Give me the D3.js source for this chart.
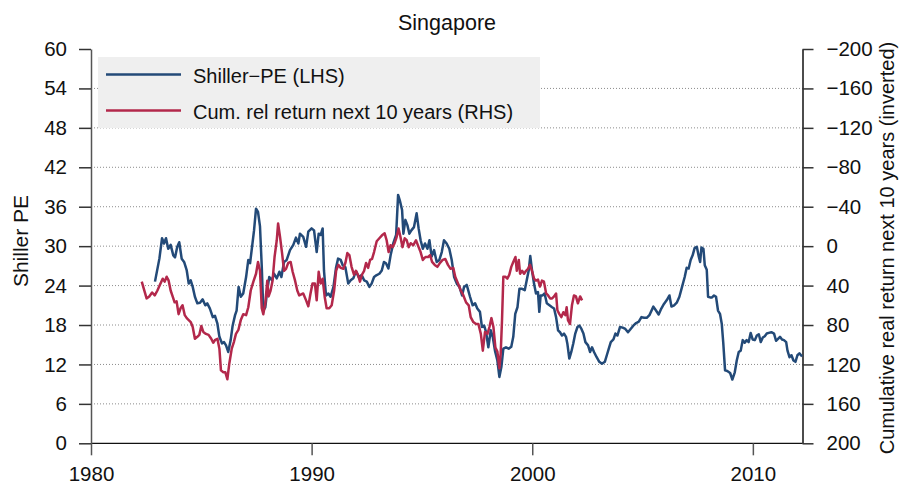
<!DOCTYPE html>
<html>
<head>
<meta charset="utf-8">
<script src="https://cdn.jsdelivr.net/npm/d3@7"></script>
<style>
  body { margin: 0; background: #fff; }
  svg { font-family: "Liberation Sans", Arial, Helvetica, sans-serif; }
</style>
</head>
<body>
<svg width="901" height="487"></svg>
<script>
// Shiller PE (left axis), decimal years
let peYears = [
  1982.90, 1983.10, 1983.22, 1983.31, 1983.40, 1983.50, 1983.61, 1983.73, 1983.81, 1983.91,
  1984.00, 1984.11, 1984.22, 1984.34, 1984.43, 1984.52, 1984.61, 1984.71, 1984.82, 1984.94,
  1985.06, 1985.18, 1985.27, 1985.39, 1985.52, 1985.62, 1985.73, 1985.82, 1985.94, 1986.03,
  1986.12, 1986.22, 1986.33, 1986.42, 1986.53, 1986.60, 1986.69, 1986.79, 1986.90, 1987.03,
  1987.13, 1987.21, 1987.30, 1987.39, 1987.48, 1987.57, 1987.66, 1987.74, 1987.81, 1987.90,
  1987.99, 1988.08, 1988.20, 1988.30, 1988.42, 1988.54, 1988.63, 1988.75, 1988.87, 1989.02,
  1989.17, 1989.29, 1989.40, 1989.47, 1989.62, 1989.75, 1989.85, 1990.00, 1990.11, 1990.23,
  1990.32, 1990.41, 1990.50, 1990.56, 1990.65, 1990.76, 1990.86, 1990.99, 1991.11, 1991.20,
  1991.32, 1991.41, 1991.53, 1991.66, 1991.77, 1991.89, 1992.01, 1992.13, 1992.27, 1992.38,
  1992.50, 1992.62, 1992.72, 1992.83, 1992.95, 1993.07, 1993.18, 1993.28, 1993.37, 1993.48,
  1993.58, 1993.70, 1993.83, 1993.92, 1994.01, 1994.10, 1994.16, 1994.25, 1994.34, 1994.43,
  1994.52, 1994.64, 1994.76, 1994.85, 1994.94, 1995.04, 1995.14, 1995.25, 1995.34, 1995.44,
  1995.55, 1995.67, 1995.79, 1995.90, 1996.00, 1996.12, 1996.24, 1996.35, 1996.46, 1996.58,
  1996.70, 1996.82, 1996.91, 1997.03, 1997.18, 1997.30, 1997.41, 1997.51, 1997.63, 1997.72,
  1997.82, 1997.91, 1998.01, 1998.12, 1998.21, 1998.31, 1998.42, 1998.51, 1998.60, 1998.69,
  1998.81, 1998.93, 1999.05, 1999.14, 1999.23, 1999.33, 1999.42, 1999.54, 1999.66, 1999.75,
  1999.84, 1999.91, 1999.99, 2000.08, 2000.17, 2000.26, 2000.32, 2000.38, 2000.47, 2000.56,
  2000.66, 2000.78, 2000.90, 2000.99, 2001.08, 2001.17, 2001.26, 2001.35, 2001.44, 2001.53,
  2001.59, 2001.68, 2001.77, 2001.86, 2001.95, 2002.05, 2002.14, 2002.23, 2002.32, 2002.41,
  2002.53, 2002.62, 2002.71, 2002.80, 2002.92, 2003.04, 2003.16, 2003.29, 2003.38, 2003.47,
  2003.56, 2003.68, 2003.77, 2003.86, 2003.98, 2004.10, 2004.22, 2004.34, 2004.46, 2004.58,
  2004.71, 2004.83, 2004.95, 2005.07, 2005.19, 2005.31, 2005.49, 2005.61, 2005.73, 2005.85,
  2005.97, 2006.10, 2006.22, 2006.31, 2006.43, 2006.55, 2006.67, 2006.79, 2006.91, 2007.00,
  2007.09, 2007.18, 2007.27, 2007.36, 2007.46, 2007.55, 2007.61, 2007.67, 2007.76, 2007.82,
  2007.91, 2007.97, 2008.06, 2008.15, 2008.24, 2008.33, 2008.42, 2008.51, 2008.59, 2008.66,
  2008.74, 2008.84, 2008.97, 2009.07, 2009.18, 2009.27, 2009.36, 2009.45, 2009.54, 2009.63,
  2009.72, 2009.81, 2009.90, 2009.99, 2010.09, 2010.18, 2010.27, 2010.36, 2010.45, 2010.54,
  2010.63, 2010.72, 2010.84, 2010.96, 2011.05, 2011.14, 2011.23, 2011.32, 2011.41, 2011.51,
  2011.57, 2011.66, 2011.75, 2011.84, 2011.93, 2012.02, 2012.11, 2012.23
];
let peValues = [
  24.6, 28.1, 31.2, 30.4, 31.2, 29.6, 30.2, 28.6, 28.3, 29.9,
  30.6, 28.1, 27.6, 26.3, 24.3, 24.8, 23.8, 22.3, 21.3, 21.4,
  21.9, 21.0, 21.3, 20.5, 19.2, 19.4, 18.2, 16.2, 15.2, 15.4,
  14.9, 13.9, 15.7, 17.9, 19.5, 20.2, 23.8, 22.3, 22.8, 25.3,
  27.9, 27.4, 29.9, 32.4, 35.7, 35.2, 33.0, 26.9, 20.2, 20.7,
  23.3, 25.3, 24.8, 25.8, 25.1, 26.1, 25.3, 27.6, 27.9, 29.4,
  30.2, 31.3, 30.4, 31.9, 31.4, 29.9, 32.2, 32.7, 32.4, 29.1,
  31.9, 31.7, 32.7, 26.3, 22.5, 22.8, 22.3, 23.8, 26.8, 28.1,
  27.9, 27.1, 26.8, 24.3, 24.8, 25.1, 26.2, 25.3, 25.6, 24.8,
  24.6, 23.8, 24.3, 25.3, 25.6, 25.8, 26.3, 27.6, 27.4, 26.6,
  28.6, 30.4, 31.7, 37.8, 36.8, 35.5, 31.9, 34.0, 33.2, 31.9,
  32.4, 32.9, 35.0, 32.7, 30.9, 29.6, 30.4, 29.6, 30.9, 28.4,
  29.4, 27.6, 27.9, 29.1, 30.9, 30.4, 29.6, 27.9, 25.3, 24.3,
  23.8, 22.5, 23.8, 24.1, 22.3, 21.0, 21.3, 20.5, 20.0, 17.7,
  17.9, 16.9, 14.6, 17.2, 16.2, 14.1, 12.6, 10.1, 11.6, 14.4,
  14.6, 14.4, 14.7, 16.2, 19.7, 20.7, 23.5, 23.5, 23.3, 24.8,
  26.3, 28.5, 26.3, 24.3, 22.8, 23.0, 20.0, 22.5, 22.5, 22.8,
  21.3, 21.0, 20.7, 20.5, 19.2, 17.2, 16.9, 16.4, 16.7, 16.2,
  15.2, 12.9, 13.9, 15.2, 16.7, 17.7, 17.9, 17.4, 16.7, 15.4,
  14.9, 13.9, 14.6, 13.9, 13.1, 12.4, 12.1, 12.4, 13.4, 14.4,
  15.4, 15.8, 16.7, 16.4, 17.7, 17.6, 17.4, 16.9, 17.4, 17.9,
  18.3, 18.5, 19.2, 19.1, 19.1, 19.5, 20.8, 20.2, 19.6, 20.5,
  21.2, 21.8, 22.5, 20.8, 21.0, 21.4, 22.3, 23.8, 25.3, 26.7,
  26.6, 27.9, 28.6, 29.7, 29.9, 28.4, 27.6, 29.8, 29.6, 27.1,
  26.4, 22.3, 22.2, 22.2, 22.5, 22.3, 20.2, 19.7, 18.2, 15.2,
  11.1, 11.0, 10.7, 9.7, 10.8, 12.6, 13.9, 14.1, 15.7, 15.3,
  15.7, 15.4, 16.8, 15.8, 15.7, 16.4, 16.6, 15.4, 16.1, 16.3,
  16.7, 16.8, 16.9, 16.7, 15.6, 15.9, 16.2, 15.8, 15.7, 15.4,
  14.1, 13.1, 13.4, 12.6, 12.4, 13.4, 13.7, 13.2
];

// Cumulative real return next 10 years (right axis, inverted)
let retYears = [
  1982.30, 1982.52, 1982.64, 1982.77, 1982.89, 1983.01, 1983.13, 1983.25, 1983.34, 1983.43,
  1983.52, 1983.61, 1983.70, 1983.79, 1983.88, 1983.97, 1984.06, 1984.15, 1984.25, 1984.34,
  1984.43, 1984.52, 1984.61, 1984.71, 1984.82, 1984.91, 1985.00, 1985.09, 1985.21, 1985.33,
  1985.45, 1985.54, 1985.63, 1985.73, 1985.82, 1985.89, 1986.00, 1986.09, 1986.18, 1986.27,
  1986.38, 1986.48, 1986.57, 1986.68, 1986.79, 1986.90, 1987.03, 1987.13, 1987.24, 1987.36,
  1987.48, 1987.57, 1987.66, 1987.74, 1987.81, 1987.90, 1987.99, 1988.05, 1988.14, 1988.23,
  1988.32, 1988.42, 1988.48, 1988.57, 1988.66, 1988.75, 1988.84, 1988.94, 1989.05, 1989.14,
  1989.25, 1989.35, 1989.44, 1989.62, 1989.75, 1989.85, 1989.95, 1990.04, 1990.15, 1990.23,
  1990.32, 1990.41, 1990.50, 1990.59, 1990.68, 1990.80, 1990.91, 1991.02, 1991.11, 1991.21,
  1991.32, 1991.44, 1991.53, 1991.62, 1991.71, 1991.81, 1991.92, 1992.01, 1992.10, 1992.19,
  1992.28, 1992.38, 1992.47, 1992.56, 1992.65, 1992.74, 1992.83, 1992.95, 1993.07, 1993.19,
  1993.31, 1993.40, 1993.49, 1993.58, 1993.67, 1993.76, 1993.85, 1993.94, 1994.03, 1994.12,
  1994.22, 1994.31, 1994.40, 1994.49, 1994.61, 1994.73, 1994.85, 1994.94, 1995.04, 1995.16,
  1995.28, 1995.37, 1995.46, 1995.58, 1995.70, 1995.82, 1995.94, 1996.06, 1996.18, 1996.30,
  1996.42, 1996.51, 1996.64, 1996.76, 1996.88, 1997.00, 1997.12, 1997.21, 1997.33, 1997.45,
  1997.56, 1997.67, 1997.76, 1997.86, 1997.97, 1998.06, 1998.15, 1998.24, 1998.33, 1998.42,
  1998.51, 1998.57, 1998.63, 1998.69, 1998.78, 1998.87, 1998.96, 1999.05, 1999.14, 1999.24,
  1999.30, 1999.39, 1999.45, 1999.54, 1999.63, 1999.72, 1999.81, 1999.90, 1999.99, 2000.08,
  2000.17, 2000.26, 2000.35, 2000.44, 2000.53, 2000.63, 2000.72, 2000.81, 2000.90, 2000.99,
  2001.08, 2001.14, 2001.23, 2001.32, 2001.41, 2001.50, 2001.56, 2001.62, 2001.71, 2001.80,
  2001.89, 2001.98, 2002.07, 2002.17, 2002.26
];
let retValues = [
  36, 53, 51, 47, 50, 45, 39, 33, 36, 31,
  35, 45, 51, 57, 56, 69, 63, 60, 70, 73,
  75, 77, 82, 94, 92, 90, 81, 87, 89, 90,
  94, 98, 95, 94, 104, 126, 128, 128, 135, 119,
  104, 97, 89, 85, 75, 69, 70, 62, 45, 36,
  28, 16, 25, 63, 69, 58, 35, 51, 45, 35,
  11, -6, -23, -9, 7, 25, 23, 17, 16, 26,
  35, 45, 50, 48, 55, 61, 48, 38, 38, 55,
  26, 38, 33, 51, 63, 63, 60, 45, 25, 19,
  22, 23, 17, 7, 9, 21, 29, 25, 29, 36,
  29, 25, 17, 22, 14, 13, 6, -5, -8, -11,
  -13, -6, 6, -1, 1, -3, -9, -18, -9, 1,
  -8, -6, 1, -3, -1, -6, 1, 6, 14, 11,
  11, 9, 16, 19, 21, 17, 14, 13, 19, 23,
  22, 31, 38, 45, 50, 57, 60, 72, 77, 79,
  79, 89, 106, 87, 89, 82, 73, 82, 103, 107,
  124, 109, 75, 31, 31, 33, 29, 21, 16, 11,
  25, 14, 28, 25, 28, 25, 23, 19, 25, 33,
  35, 34, 41, 35, 36, 48, 50, 53, 53, 51,
  48, 65, 69, 72, 67, 70, 62, 75, 79, 60,
  50, 51, 58, 51, 55
];

let peTicks = [0, 6, 12, 18, 24, 30, 36, 42, 48, 54, 60];
let retTicks = [-200, -160, -120, -80, -40, 0, 40, 80, 120, 160, 200];
let yearTicks = [1980, 1990, 2000, 2010];
let seriesNames = ["Shiller\u2212PE (LHS)", "Cum. rel return next 10 years (RHS)"];
let seriesColors = ["#234a78", "#b3284b"];

let plotLeft = 91, plotRight = 802.5, plotTop = 49, plotBottom = 443.3;

let svg = d3.select('svg');

let x = d3.scaleLinear().domain([1980, 2012.25]).range([plotLeft, plotRight]);
let y = d3.scaleLinear().domain([0, 60]).range([plotBottom, plotTop]);
let yR = d3.scaleLinear().domain([200, -200]).range([plotBottom, plotTop]);

// dotted gridlines
svg.append('g')
  .selectAll('line')
  .data(peTicks.filter((d) => d > 0 && d < 60))
  .enter()
  .append('line')
  .attr('x1', plotLeft)
  .attr('x2', plotRight)
  .attr('y1', (d) => y(d))
  .attr('y2', (d) => y(d))
  .style('stroke', '#8c8c8c')
  .style('stroke-width', 1)
  .style('stroke-dasharray', '1,2');

// baseline
svg.append('line')
  .attr('x1', plotLeft).attr('x2', plotRight)
  .attr('y1', plotBottom).attr('y2', plotBottom)
  .style('stroke', '#111').style('stroke-width', 1.2);

let fontSize = '20.5px';

let gL = svg.append('g')
  .attr('transform', `translate(${plotLeft},0)`)
  .call(d3.axisLeft(y).tickValues(peTicks).tickSize(12).tickSizeOuter(0).tickPadding(12));
gL.select('.domain').style('stroke', '#555').style('stroke-width', 1.5);
gL.selectAll('.tick line').style('stroke', '#333').style('stroke-width', 1.5);
gL.selectAll('text').style('font-size', fontSize).style('fill', '#111');
gL.attr('font-family', null);

let gR = svg.append('g')
  .attr('transform', `translate(${plotRight},0)`)
  .call(d3.axisRight(yR).tickValues(retTicks).tickSize(11).tickSizeOuter(0).tickPadding(13));
gR.select('.domain').style('stroke', '#111').style('stroke-width', 1.5);
gR.selectAll('.tick line').style('stroke', '#333').style('stroke-width', 1.5);
gR.selectAll('text').style('font-size', fontSize).style('fill', '#111');
gR.attr('font-family', null);

let gX = svg.append('g')
  .attr('transform', `translate(0,${plotBottom})`)
  .call(d3.axisBottom(x).tickValues(yearTicks).tickFormat(d3.format('d')).tickSize(12).tickSizeOuter(0).tickPadding(11));
gX.select('.domain').remove();
gX.selectAll('.tick line').style('stroke', '#555').style('stroke-width', 1.5);
gX.selectAll('text').style('font-size', fontSize).style('fill', '#111');
gX.attr('font-family', null);

// series
let peLine = d3.line()
  .x((d, i) => x(peYears[i]))
  .y((d) => y(d));
let retLine = d3.line()
  .x((d, i) => x(retYears[i]))
  .y((d) => yR(d));

svg.append('path')
  .datum(peValues)
  .attr('d', peLine)
  .style('fill', 'none')
  .style('stroke', seriesColors[0])
  .style('stroke-width', 2.5)
  .style('stroke-linejoin', 'round');

svg.append('path')
  .datum(retValues)
  .attr('d', retLine)
  .style('fill', 'none')
  .style('stroke', seriesColors[1])
  .style('stroke-width', 2.5)
  .style('stroke-linejoin', 'round');

// legend
let lg = svg.append('g');
lg.append('rect')
  .attr('x', 98).attr('y', 57)
  .attr('width', 442).attr('height', 71)
  .style('fill', '#efefef');
seriesNames.forEach((name, i) => {
  let ly = 74.5 + i * 36;
  lg.append('line')
    .attr('x1', 106).attr('x2', 181)
    .attr('y1', ly).attr('y2', ly)
    .style('stroke', seriesColors[i])
    .style('stroke-width', 2.6);
  lg.append('text')
    .attr('x', 193).attr('y', ly + 8.5)
    .style('font-size', '20px')
    .style('fill', '#111')
    .text(name);
});

// titles
svg.append('text')
  .attr('x', 447).attr('y', 30)
  .attr('text-anchor', 'middle')
  .style('font-size', '21.5px')
  .style('fill', '#111')
  .text('Singapore');

svg.append('text')
  .attr('transform', 'translate(28,241) rotate(-90)')
  .attr('text-anchor', 'middle')
  .style('font-size', '21px')
  .style('fill', '#111')
  .text('Shiller PE');

svg.append('text')
  .attr('transform', 'translate(894,248) rotate(-90)')
  .attr('text-anchor', 'middle')
  .style('font-size', '20px')
  .style('fill', '#111')
  .text('Cumulative real return next 10 years (inverted)');
</script>
</body>
</html>
